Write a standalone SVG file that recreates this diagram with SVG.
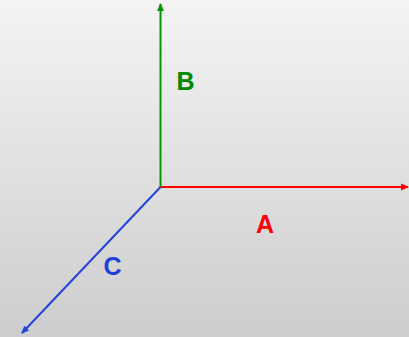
<svg xmlns="http://www.w3.org/2000/svg" width="409" height="337" viewBox="0 0 409 337">
<style>
.lbl{font-family:"Liberation Sans",Arial,sans-serif;font-weight:bold;font-size:25px;text-anchor:middle}
.ax{stroke-width:2;fill:none}
</style>
<defs>
<linearGradient id="bg" x1="0" y1="0" x2="0" y2="1">
<stop offset="0" stop-color="#f4f4f4"/>
<stop offset="1" stop-color="#cdcdcd"/>
</linearGradient>
<marker id="mg" markerWidth="8" markerHeight="8" refX="7" refY="4" orient="auto" markerUnits="userSpaceOnUse"><path d="M0,0.5 L8,4 L0,7.5 Z" fill="#009900"/></marker>
<marker id="mr" markerWidth="8" markerHeight="8" refX="7" refY="4" orient="auto" markerUnits="userSpaceOnUse"><path d="M0,0.5 L8,4 L0,7.5 Z" fill="#ff0000"/></marker>
<marker id="mb" markerWidth="8" markerHeight="8" refX="7" refY="4" orient="auto" markerUnits="userSpaceOnUse"><path d="M0,0.5 L8,4 L0,7.5 Z" fill="#2244dd"/></marker>
</defs>
<rect width="409" height="337" fill="url(#bg)"/>
<g id="connectors">
<line class="ax" x1="160.5" y1="187" x2="160.5" y2="4" stroke="#009900" marker-end="url(#mg)"/>
<line class="ax" x1="160.5" y1="187" x2="408" y2="187" stroke="#ff0000" marker-end="url(#mr)"/>
<line class="ax" x1="160.5" y1="187" x2="22" y2="333" stroke="#2244dd" marker-end="url(#mb)"/>
</g>
<g id="B"><text class="lbl" x="185.5" y="90" fill="#008800">B</text></g>
<g id="A"><text class="lbl" x="265" y="233" fill="#ff0000">A</text></g>
<g id="C"><text class="lbl" x="112.5" y="275" fill="#1f3fd6">C</text></g>
</svg>
